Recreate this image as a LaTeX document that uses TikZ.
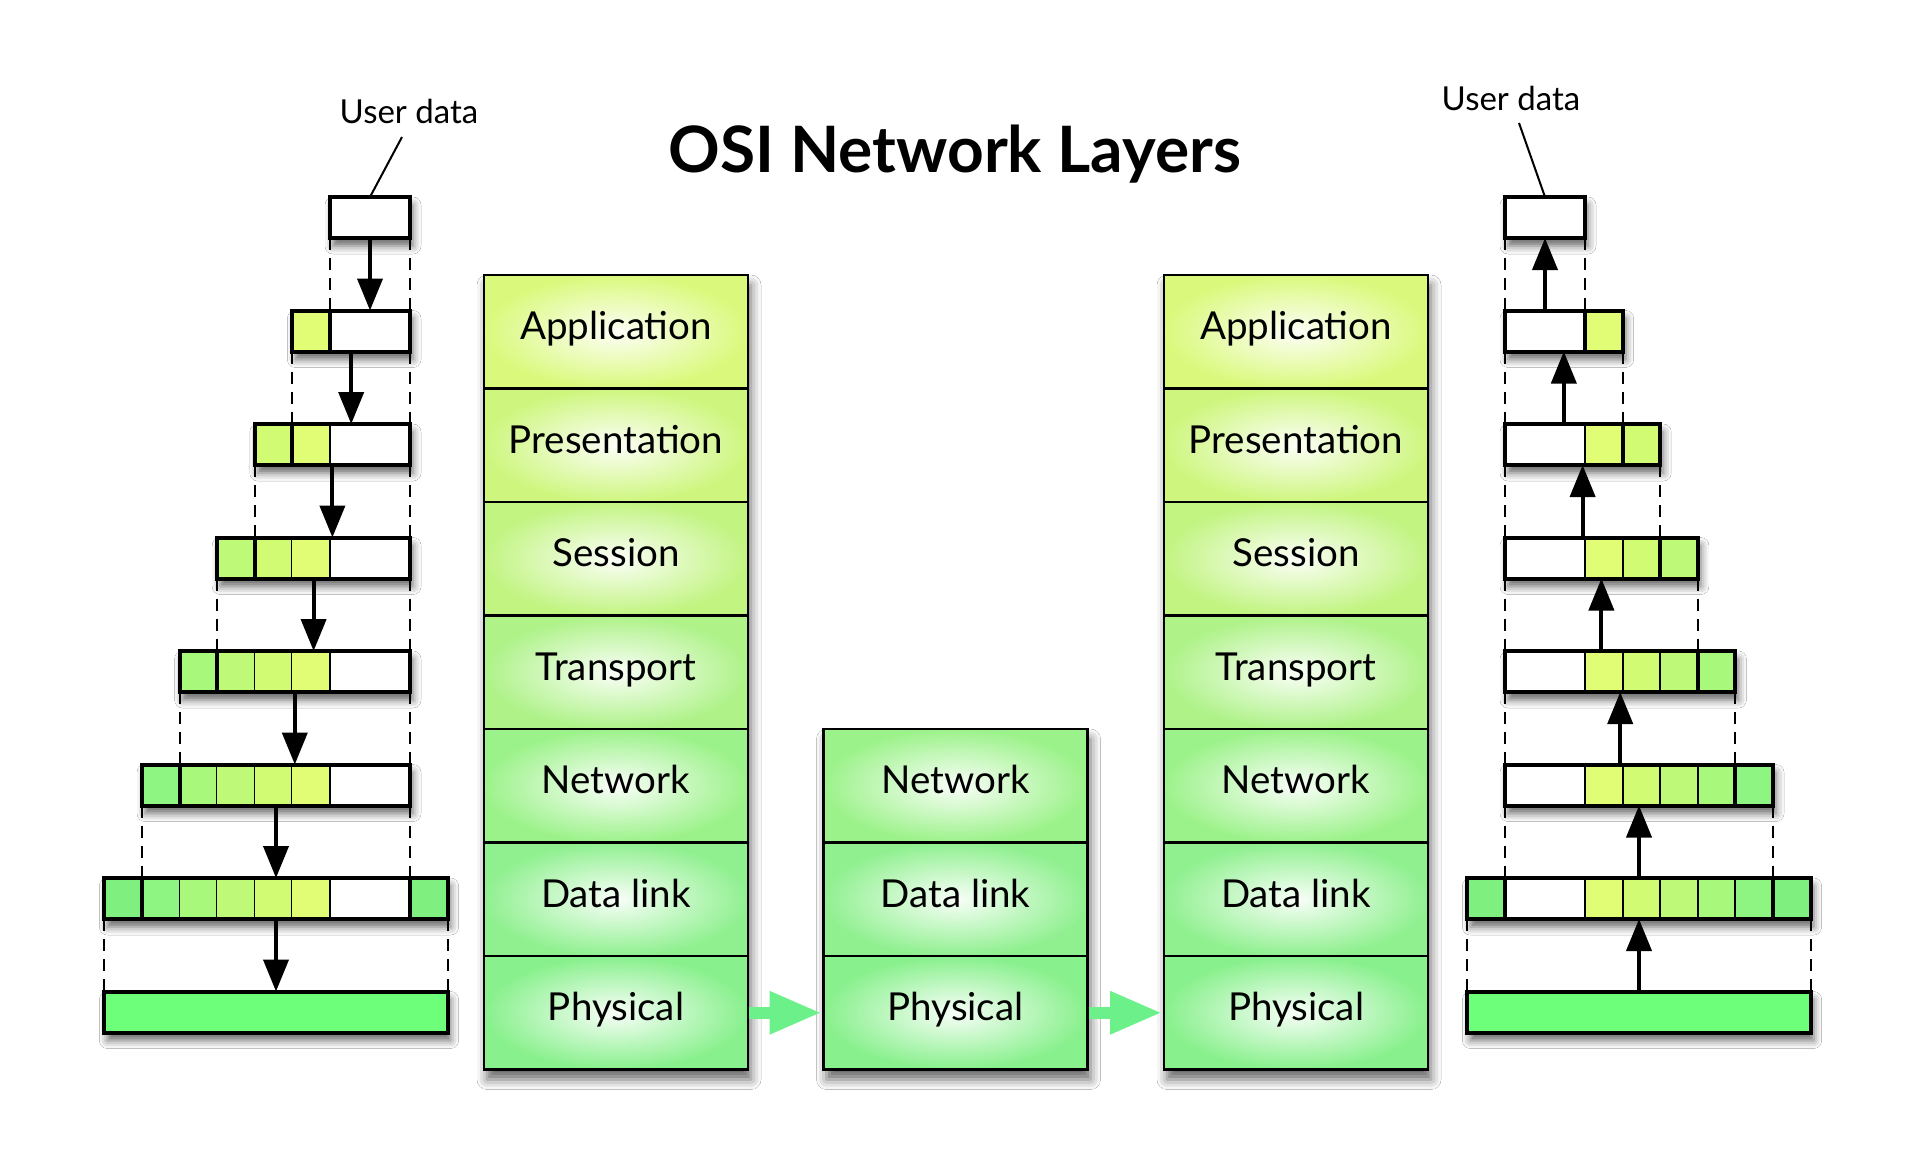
\documentclass[tikz,border=0pt]{standalone}
\usepackage{fontspec}
\setmainfont{Lato}
\usetikzlibrary{arrows.meta,shadows.blur}
% packet cell colours (1=application ... 6=data link)
\definecolor{pc1}{HTML}{E1FD76}
\definecolor{pc2}{HTML}{D2FB74}
\definecolor{pc3}{HTML}{BEF977}
\definecolor{pc4}{HTML}{A8F87C}
\definecolor{pc5}{HTML}{8FF582}
\definecolor{pc6}{HTML}{7FEF80}
\definecolor{physbar}{HTML}{6EFF7A}
% layer edge colours
\definecolor{lcApp}{HTML}{DAF97C}
\definecolor{lcPre}{HTML}{CEF67E}
\definecolor{lcSes}{HTML}{C2F482}
\definecolor{lcTra}{HTML}{AEF288}
\definecolor{lcNet}{HTML}{9CF28A}
\definecolor{lcDat}{HTML}{90F090}
\definecolor{lcPhy}{HTML}{88F08C}
\definecolor{flow}{HTML}{6CF08A}
\tikzset{
  x=1pt, y=-1pt,
  every node/.style={inner sep=0pt, outer sep=0pt},
  rowbg/.style={fill=white, minimum height=41pt,
    blur shadow={shadow xshift=3pt, shadow yshift=-8pt, shadow blur radius=8pt, shadow opacity=60}},
  rowline/.style={draw=black, line width=4pt},
  sepline/.style={draw=black, line width=2pt},
  thicksep/.style={draw=black, line width=4pt},
  guide/.style={draw=black, line width=2pt, dash pattern=on 12pt off 8pt},
  pktarrow/.style={draw=black, line width=4pt, -{Triangle[width=25pt,length=32pt]}},
  flowarrow/.style={draw=flow, line width=12pt, -{Triangle[width=40pt,length=52pt]}},
  stackbg/.style={fill=white, minimum width=264pt,
    blur shadow={shadow xshift=3pt, shadow yshift=-10pt, shadow blur radius=10pt, shadow opacity=60}},
  layerbox/.style={draw=black, line width=2.5pt, minimum width=264pt, minimum height=113.5pt,
    inner color=#1!6!white, outer color=#1, text height=26pt, text depth=10pt,
    font=\fontsize{38.5}{44}\selectfont},
  udlabel/.style={font=\fontsize{33}{38}\selectfont, anchor=base},
  callout/.style={draw=black, line width=2pt},
}
\begin{document}
\begin{tikzpicture}
\useasboundingbox[fill=white] (0,0) rectangle (1920,1149);
\def\cw{37.6}
%================ LEFT PACKET STACK ================
\foreach \k in {1,...,6} {
  \pgfmathsetmacro\xl{330-(\k-1)*\cw}
  \pgfmathsetmacro\tp{197+(\k-1)*113.5}
  \node[rowbg, minimum width={(410-\xl)*1pt}] (L\k) at ({(\xl+410)/2},\tp+20.5) {};
}
\node[rowbg, minimum width={(447.6-104.4)*1pt}] (L7) at (276,878+20.5) {};
\node[rowbg, minimum width={(447.6-104.4)*1pt}, fill=physbar] (L8) at (276,991.5+20.5) {};
\foreach \k in {2,...,6} {
  \pgfmathsetmacro\tp{197+(\k-1)*113.5}
  \pgfmathtruncatemacro\km{\k-1}
  \foreach \j in {1,...,\km} {
    \pgfmathsetmacro\xa{330-(\k-\j)*\cw}
    \pgfmathsetmacro\xb{\xa+\cw}
    \pgfmathtruncatemacro\ly{\k-\j}
    \fill[pc\ly] (\xa,\tp) rectangle (\xb,\tp+41);
    \draw[sepline] (\xb,\tp) -- (\xb,\tp+41);
  }
  \pgfmathsetmacro\xs{330-(\k-2)*\cw}
  \draw[thicksep] (\xs,\tp) -- (\xs,\tp+41);
}
\foreach \j in {1,...,6} {
  \pgfmathsetmacro\xa{330-(7-\j)*\cw}
  \pgfmathsetmacro\xb{\xa+\cw}
  \pgfmathtruncatemacro\ly{7-\j}
  \fill[pc\ly] (\xa,878) rectangle (\xb,919);
  \draw[sepline] (\xb,878) -- (\xb,919);
}
\fill[pc6] (410,878) rectangle (447.6,919);
\draw[thicksep] (142,878) -- (142,919);
\draw[thicksep] (410,878) -- (410,919);
\foreach \k in {1,...,8} {\draw[rowline] (L\k.south west) rectangle (L\k.north east);}
\foreach \k/\n in {1/2,2/3,3/4,4/5,5/6,6/7,7/8} {
  \draw[guide] (L\k.south west) -- (L\k.south west |- L\n.north);
  \draw[guide] (L\k.south east) -- (L\k.south east |- L\n.north);
  \draw[pktarrow] (L\k.south) -- (L\k.south |- L\n.north);
}
%================ RIGHT PACKET STACK ================
\foreach \k in {1,...,6} {
  \pgfmathsetmacro\xr{1585+(\k-1)*\cw}
  \pgfmathsetmacro\tp{197+(\k-1)*113.5}
  \node[rowbg, minimum width={(\xr-1505)*1pt}] (R\k) at ({(\xr+1505)/2},\tp+20.5) {};
}
\node[rowbg, minimum width={(1810.6-1467.4)*1pt}] (R7) at (1639,878+20.5) {};
\node[rowbg, minimum width={(1810.6-1467.4)*1pt}, fill=physbar] (R8) at (1639,991.5+20.5) {};
\foreach \k in {2,...,6} {
  \pgfmathsetmacro\tp{197+(\k-1)*113.5}
  \pgfmathtruncatemacro\km{\k-1}
  \foreach \j in {1,...,\km} {
    \pgfmathsetmacro\xa{1585+(\j-1)*\cw}
    \pgfmathsetmacro\xb{\xa+\cw}
    \fill[pc\j] (\xa,\tp) rectangle (\xb,\tp+41);
    \draw[sepline] (\xa,\tp) -- (\xa,\tp+41);
  }
  \pgfmathsetmacro\xs{1585+(\k-2)*\cw}
  \draw[thicksep] (\xs,\tp) -- (\xs,\tp+41);
}
\foreach \j in {1,...,6} {
  \pgfmathsetmacro\xa{1585+(\j-1)*\cw}
  \pgfmathsetmacro\xb{\xa+\cw}
  \fill[pc\j] (\xa,878) rectangle (\xb,919);
  \draw[sepline] (\xa,878) -- (\xa,919);
}
\fill[pc6] (1467.4,878) rectangle (1505,919);
\draw[thicksep] (1505,878) -- (1505,919);
\draw[thicksep] (1773,878) -- (1773,919);
\foreach \k in {1,...,8} {\draw[rowline] (R\k.south west) rectangle (R\k.north east);}
\foreach \k/\n in {1/2,2/3,3/4,4/5,5/6,6/7,7/8} {
  \draw[guide] (R\k.south west) -- (R\k.south west |- R\n.north);
  \draw[guide] (R\k.south east) -- (R\k.south east |- R\n.north);
  \draw[pktarrow] (R\k.south |- R\n.north) -- (R\k.south);
}
%================ USER DATA LABELS ================
\node[udlabel] (udL) at (409,123) {User data};
\coordinate (udLpt) at (402,137);
\draw[callout] (udLpt) -- (L1.north);
\node[udlabel] (udR) at (1511,110) {User data};
\coordinate (udRpt) at (1519,123);
\draw[callout] (udRpt) -- (R1.north);
%================ TITLE ================
\node[anchor=base, font=\fontsize{64}{72}\selectfont\bfseries] (title) at (955,172) {OSI Network Layers};
%================ LAYER STACKS ================
\node[stackbg, minimum height=794.5pt] (Lstack) at (616,672.25) {};
\node[stackbg, minimum height=340.5pt] (Mstack) at (955.5,899.25) {};
\node[stackbg, minimum height=794.5pt] (Rstack) at (1296,672.25) {};
\foreach \cx/\p in {616/A,1296/C} {
  \node[layerbox=lcApp] (\p1) at (\cx,331.75) {Application};
  \node[layerbox=lcPre] (\p2) at (\cx,445.25) {Presentation};
  \node[layerbox=lcSes] (\p3) at (\cx,558.75) {Session};
  \node[layerbox=lcTra] (\p4) at (\cx,672.25) {Transport};
  \node[layerbox=lcNet] (\p5) at (\cx,785.75) {Network};
  \node[layerbox=lcDat] (\p6) at (\cx,899.25) {Data link};
  \node[layerbox=lcPhy] (\p7) at (\cx,1012.75) {Physical};
}
\node[layerbox=lcNet] (B5) at (955.5,785.75) {Network};
\node[layerbox=lcDat] (B6) at (955.5,899.25) {Data link};
\node[layerbox=lcPhy] (B7) at (955.5,1012.75) {Physical};
\draw[flowarrow] ([xshift=1pt]A7.east) -- ([xshift=-2pt]B7.west);
\draw[flowarrow] ([xshift=1pt]B7.east) -- ([xshift=-2pt]C7.west);
\end{tikzpicture}
\end{document}
